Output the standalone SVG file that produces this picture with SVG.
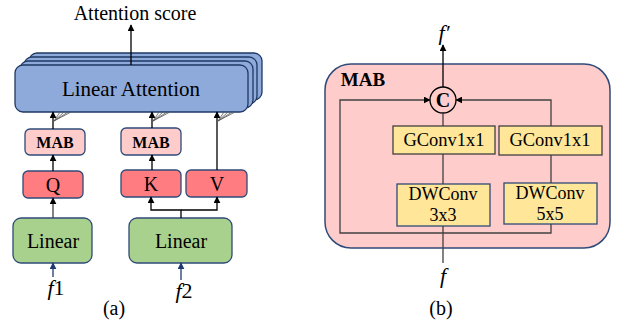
<svg xmlns="http://www.w3.org/2000/svg" width="618" height="322" viewBox="0 0 618 322">
<defs>
<marker id="ah" viewBox="0 0 10 10" refX="9" refY="5" markerWidth="7" markerHeight="7" markerUnits="userSpaceOnUse" orient="auto"><path d="M0,0 L10,5 L0,10 z" fill="#000"/></marker>
<marker id="ahb" viewBox="0 0 10 10" refX="9" refY="5" markerWidth="7" markerHeight="7" markerUnits="userSpaceOnUse" orient="auto"><path d="M0,0 L10,5 L0,10 z" fill="#1f3a6e"/></marker>
<style>
text{font-family:"Liberation Serif","Times New Roman",serif;fill:#000}
.la{fill:#8eaadb;stroke:#1f3864;stroke-width:1.3}
.mab{fill:#ffcccc;stroke:#2f4a78;stroke-width:1.3}
.qkv{fill:#ff7c80;stroke:#2f4a78;stroke-width:1.3}
.lin{fill:#a9d18e;stroke:#2f4a78;stroke-width:1.3}
.big{fill:#ffcccc;stroke:#2f4a78;stroke-width:1.5}
.conv{fill:#ffe699;stroke:#404040;stroke-width:1.3}
.conv2{fill:#ffe699;stroke:#2f4a78;stroke-width:1.3}
.ln{fill:none;stroke:#000;stroke-width:1.3}
.lg{fill:none;stroke:#404040;stroke-width:1.3}
.fan{fill:none;stroke:#555;stroke-width:0.8}
.t{text-anchor:middle}
</style>
</defs>

<!-- (a) -->
<g id="linear-attention">
<rect class="la" x="29" y="53" width="233" height="47" rx="8"/>
<rect class="la" x="24" y="57" width="233" height="47" rx="8"/>
<rect class="la" x="20" y="61" width="233" height="47" rx="8"/>
<rect class="la" x="15" y="65" width="233" height="47" rx="8"/>
<text class="t" x="131" y="96" font-size="21">Linear Attention</text>
</g>
<g id="attention-score"><text class="t" x="135" y="20" font-size="20">Attention score</text></g>
<g id="mab1"><rect class="mab" x="25" y="129" width="60" height="26" rx="5"/><text class="t" x="55" y="148" font-size="16" font-weight="bold">MAB</text></g>
<g id="mab2"><rect class="mab" x="121" y="128" width="60" height="27" rx="5"/><text class="t" x="151" y="148" font-size="16" font-weight="bold">MAB</text></g>
<g id="q"><rect class="qkv" x="23" y="171" width="60" height="27" rx="5"/><text class="t" x="53" y="192" font-size="20">Q</text></g>
<g id="k"><rect class="qkv" x="121" y="170" width="60" height="27" rx="5"/><text class="t" x="151" y="191" font-size="20">K</text></g>
<g id="v"><rect class="qkv" x="186" y="170" width="61" height="27" rx="5"/><text class="t" x="217" y="191" font-size="20">V</text></g>
<g id="linear1"><rect class="lin" x="13" y="218" width="79" height="45" rx="8"/><text class="t" x="53" y="248" font-size="20">Linear</text></g>
<g id="linear2"><rect class="lin" x="129" y="218" width="103" height="45" rx="8"/><text class="t" x="181" y="248" font-size="20">Linear</text></g>
<g id="f1"><text class="t" x="56" y="295" font-size="22"><tspan font-style="italic">f</tspan>1</text></g>
<g id="f2"><text class="t" x="184" y="298" font-size="22"><tspan font-style="italic">f</tspan>2</text></g>
<g id="label-a"><text class="t" x="114" y="315" font-size="20">(a)</text></g>

<!-- (b) -->
<g id="mab-block"><rect class="big" x="325" y="64" width="285" height="184" rx="26"/><text class="t" x="363" y="86" font-size="19" font-weight="bold">MAB</text></g>
<g id="concat"><circle cx="443" cy="100" r="13" fill="none" stroke="#000" stroke-width="1.3"/><text class="t" x="443" y="107" font-size="20" font-weight="bold">C</text></g>
<g id="gconv1"><rect class="conv" x="393" y="126" width="102" height="28"/><text class="t" x="444" y="146" font-size="18.5">GConv1x1</text></g>
<g id="gconv2"><rect class="conv" x="499" y="126" width="103" height="29"/><text class="t" x="550" y="146" font-size="18.5">GConv1x1</text></g>
<g id="dwconv3"><rect class="conv2" x="397" y="184" width="93" height="42"/><text class="t" x="443" y="200" font-size="18">DWConv</text><text class="t" x="443" y="221" font-size="18">3x3</text></g>
<g id="dwconv5"><rect class="conv2" x="504" y="183" width="93" height="41"/><text class="t" x="550" y="199" font-size="18">DWConv</text><text class="t" x="550" y="220" font-size="18">5x5</text></g>
<g id="fprime"><text class="t" x="444" y="40" font-size="22" font-style="italic">f′</text></g>
<g id="f"><text class="t" x="443" y="283" font-size="22" font-style="italic">f</text></g>
<g id="label-b"><text class="t" x="441" y="315" font-size="20">(b)</text></g>

<g id="connectors">
<!-- (a) -->
<line class="ln" x1="131" y1="65" x2="131" y2="25" marker-end="url(#ah)" stroke-width="2"/>
<line class="ln" x1="53" y1="129" x2="53" y2="112" marker-end="url(#ah)"/>
<line class="ln" x1="152" y1="128" x2="152" y2="112" marker-end="url(#ah)"/>
<line class="ln" x1="217" y1="170" x2="217" y2="112" marker-end="url(#ah)"/>
<path class="fan" d="M54,121 L60,112 M54,121 L64,112 M54,121 L68,112 M54,121 L71,112"/>
<path class="fan" d="M153,121 L159,112 M153,121 L163,112 M153,121 L167,112 M153,121 L170,112"/>
<path class="fan" d="M218,121 L224,112 M218,121 L228,112 M218,121 L232,112 M218,121 L235,112"/>
<line class="ln" x1="53" y1="171" x2="53" y2="155" marker-end="url(#ah)"/>
<line class="ln" x1="152" y1="170" x2="152" y2="155" marker-end="url(#ah)"/>
<line class="lg" x1="53" y1="218" x2="53" y2="198" marker-end="url(#ah)"/>
<path class="ln" d="M181,218 V210 H151 V197" marker-end="url(#ah)"/>
<path class="ln" d="M181,210 H217 V197" marker-end="url(#ah)"/>
<line x1="53" y1="277" x2="53" y2="263" stroke="#1f3a6e" stroke-width="1.3" marker-end="url(#ahb)"/>
<line x1="181" y1="280" x2="181" y2="263" stroke="#1f3a6e" stroke-width="1.3" marker-end="url(#ahb)"/>
<!-- (b) -->
<line class="ln" x1="443" y1="87" x2="443" y2="45" marker-end="url(#ah)"/>
<line class="lg" x1="443" y1="113" x2="443" y2="126"/>
<line class="lg" x1="443" y1="154" x2="443" y2="184"/>
<line class="lg" x1="443" y1="226" x2="443" y2="263"/>
<line class="lg" x1="551" y1="155" x2="551" y2="183"/>
<path class="lg" d="M551,224 V233 H340 V100 H430" marker-end="url(#ah)"/>
<path class="lg" d="M551,126 V100 H456" marker-end="url(#ah)"/>
</g>
</svg>
